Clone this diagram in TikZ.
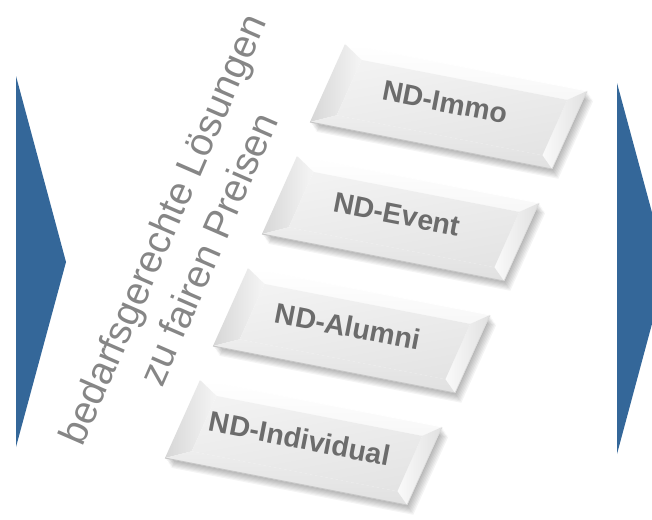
\documentclass[tikz,border=0pt]{standalone}
\usepackage{fontspec}
\setmainfont{Liberation Sans}
\usetikzlibrary{calc}
\definecolor{chev}{RGB}{52,103,153}
\definecolor{btntext}{RGB}{108,108,108}
\definecolor{lbltext}{RGB}{134,134,134}
\tikzset{
  btnlabel/.style={font=\fontsize{28.5}{30}\selectfont\bfseries, text=btntext, rotate=-11, inner sep=0pt},
  chevron/.style={fill=chev, draw=none}
}
\newcommand{\ndbutton}[4]{%
  \begin{scope}[shift={(#2,#3)}, x={(242pt,-47pt)}, y={(-35pt,-78pt)}]
    % soft shadow
    \foreach \s in {1,...,7}{
      \fill[black, opacity=0.045, xshift=0.9*\s pt, yshift=-1.4*\s pt]
        (0,0) -- (1,0) -- (1,1) -- (0,1) -- cycle;
    }
    % outer body
    \fill[white] (0,0) -- (1,0) -- (1,1) -- (0,1) -- cycle;
    % bevels
    \shade[top color=white, bottom color=gray!6]
      (0,0) -- (1,0) -- (0.94,0.15) -- (0.09,0.15) -- cycle;
    \shade[left color=gray!32, right color=gray!8]
      (0,0) -- (0.09,0.15) -- (0.09,0.86) -- (0,1) -- cycle;
    \shade[left color=gray!4, right color=gray!24]
      (1,0) -- (1,1) -- (0.94,0.86) -- (0.94,0.15) -- cycle;
    \shade[top color=gray!14, bottom color=gray!24]
      (0,1) -- (0.09,0.86) -- (0.94,0.86) -- (1,1) -- cycle;
    % face
    \shade[top color=gray!10, bottom color=gray!21, shading angle=10]
      (0.09,0.15) -- (0.94,0.15) -- (0.94,0.86) -- (0.09,0.86) -- cycle;
    % edges
    \draw[gray!45, line width=0.9pt] (0,1) -- (1,1);
    \draw[gray!30, line width=0.6pt] (1,0) -- (1,1);
    \draw[white, line width=0.8pt] (0,0) -- (1,0);
    \node[btnlabel] (#1) at (0.48,0.46) {#4};
  \end{scope}%
}
\begin{document}
\begin{tikzpicture}[x=1pt,y=-1pt]
\useasboundingbox (0,0) rectangle (652,519);
\fill[white] (0,0) rectangle (652,519);
\begin{scope}
  \clip (0,0) rectangle (652,519);
  \fill[chevron] (16,76) -- (66,262) -- (16,447) -- cycle;
  \fill[chevron] (617,83) -- (667,268) -- (617,454) -- cycle;
\end{scope}
\node[rotate=66.5, align=center, text=lbltext, inner sep=0pt,
      font=\fontsize{39}{49.5}\selectfont] (label) at (185,239)
  {bedarfsgerechte Lösungen\\zu fairen Preisen};
\ndbutton{immo}{345}{44}{ND-Immo}
\ndbutton{event}{297}{156}{ND-Event}
\ndbutton{alumni}{248}{268}{ND-Alumni}
\ndbutton{indiv}{200}{380}{ND-Individual}
\end{tikzpicture}
\end{document}
